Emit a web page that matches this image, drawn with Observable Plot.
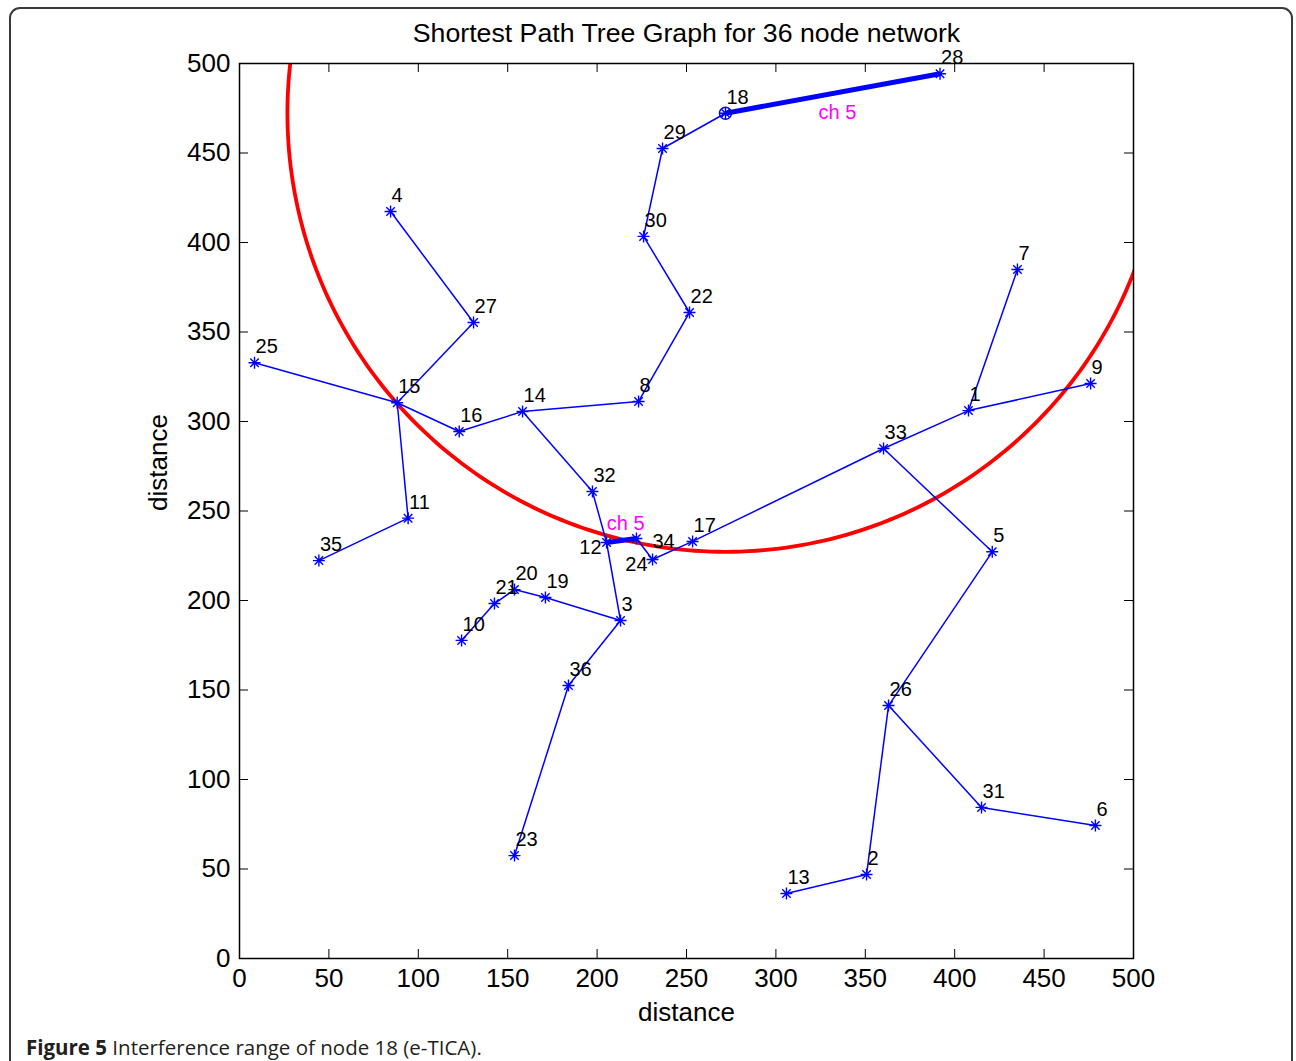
<!DOCTYPE html>
<html>
<head>
<meta charset="utf-8">
<script src="https://cdn.jsdelivr.net/npm/d3@7"></script>
<script src="https://cdn.jsdelivr.net/npm/@observablehq/plot@0.6"></script>
<style>
  html, body { margin: 0; padding: 0; background: #fff; }
  #wrap { position: relative; width: 1296px; height: 1061px; overflow: hidden; }
  #border { position: absolute; left: 9px; top: 7px; width: 1284px; height: 1080px;
            border: 2px solid #3a3a3a; border-radius: 11px; box-sizing: border-box; }
  #chart { position: absolute; left: 0; top: 0; }
  #caption { position: absolute; left: 26px; top: 1033px; font-family: "Open Sans", sans-serif;
             font-size: 20.5px; color: #231f20; white-space: nowrap; }
  #caption b { font-weight: bold; }
</style>
</head>
<body>
<div id="wrap">
  <div id="border"></div>
  <div id="chart"></div>
  <div id="caption"><b>Figure 5</b> Interference range of node 18 (e-TICA).</div>
</div>
<script>
// Node ids and coordinates
const nodeIds = [1,2,3,4,5,6,7,8,9,10,11,12,13,14,15,16,17,18,19,20,21,22,23,24,25,26,27,28,29,30,31,32,33,34,35,36];
const nodeX = [407.7,350.7,213.1,84.5,421.0,478.7,435.1,223.2,476.0,124.2,94.3,205.3,305.9,158.3,88.2,122.9,253.4,271.8,171.1,153.8,142.6,251.7,153.8,231.0,8.4,363.0,130.9,391.8,236.6,226.0,415.0,197.4,360.2,222.0,44.4,184.0];
const nodeY = [306.1,46.9,188.8,417.3,227.2,74.3,384.9,311.2,321.2,177.7,246.0,232.4,36.3,305.6,310.5,294.4,233.0,472.2,201.7,206.1,198.3,360.9,57.5,222.9,332.8,141.3,355.3,494.3,452.5,403.4,84.4,260.9,284.9,234.6,222.3,152.5];

// Tree edges
const edgeFrom = [18,29,30,22,8,14,16,15,15,27,15,11,14,32,12,34,24,17,33,1,1,33,5,26,31,26,2,3,19,20,21,3,36];
const edgeTo   = [29,30,22,8,14,16,15,25,27,4,11,35,32,12,3,24,17,33,1,9,7,5,26,31,6,2,13,19,20,21,10,36,23];

// Channel-5 (thick) edges
const chFrom = [18,12];
const chTo   = [28,34];
const chLabelX = [334.4, 216.0];
const chLabelY = [472.8, 243.2];
const chLabels = ["ch 5", "ch 5"];

// Interference range of node 18
const rangeCenter = 18;
const rangeRadius = 245;

const xTicks = [0,50,100,150,200,250,300,350,400,450,500];
const yTicks = [0,50,100,150,200,250,300,350,400,450,500];

const nodes = nodeIds.map((id, i) => ({id, x: nodeX[i], y: nodeY[i]}));
const byId = new Map(nodes.map(n => [n.id, n]));
const edges = edgeFrom.map((a, i) => ({a: byId.get(a), b: byId.get(edgeTo[i])}));
const chEdges = chFrom.map((a, i) => ({a: byId.get(a), b: byId.get(chTo[i])}));
const chText = chLabels.map((t, i) => ({t, x: chLabelX[i], y: chLabelY[i]}));

const c = byId.get(rangeCenter);
const circlePts = d3.range(0, 361, 1).map(deg => ({
  x: c.x + rangeRadius * Math.cos(deg * Math.PI / 180),
  y: c.y + rangeRadius * Math.sin(deg * Math.PI / 180)
}));

const star = {
  draw(ctx, size) {
    const r = Math.sqrt(size / Math.PI);
    const d = r * Math.SQRT1_2;
    ctx.moveTo(-r, 0); ctx.lineTo(r, 0);
    ctx.moveTo(0, -r); ctx.lineTo(0, r);
    ctx.moveTo(-d, -d); ctx.lineTo(d, d);
    ctx.moveTo(-d, d); ctx.lineTo(d, -d);
  }
};

const W = 1296, H = 1030;
const mT = 63, mB = 72, mL = 239, mR = 163;
const plotH = H - mT - mB, plotW = W - mL - mR;
const tk = 9;
const blue = "#0000ff";
const font = "'Liberation Sans', Arial, Helvetica, sans-serif";
const special = new Set([12, 24, 34]);

const plot = Plot.plot({
  width: W, height: H,
  marginTop: mT, marginBottom: mB, marginLeft: mL, marginRight: mR,
  style: {fontFamily: font, background: "transparent", color: "#000"},
  x: {domain: [0, 500]},
  y: {domain: [0, 500]},
  marks: [
    Plot.line(circlePts, {x: "x", y: "y", stroke: "#ff0000", strokeWidth: 3.8, clip: true}),
    Plot.link(edges, {x1: d => d.a.x, y1: d => d.a.y, x2: d => d.b.x, y2: d => d.b.y, stroke: blue, strokeWidth: 1.5}),
    Plot.link(chEdges, {x1: d => d.a.x, y1: d => d.a.y, x2: d => d.b.x, y2: d => d.b.y, stroke: blue, strokeWidth: 5}),
    Plot.dot(nodes, {x: "x", y: "y", symbol: star, r: 6, stroke: blue, fill: "none", strokeWidth: 1.4}),
    Plot.dot([c], {x: "x", y: "y", symbol: "circle", r: 6, stroke: blue, fill: "none", strokeWidth: 1.4}),
    Plot.text(nodes.filter(d => !special.has(d.id)), {x: "x", y: "y", text: d => String(d.id),
      fontSize: 20, fill: "#000", textAnchor: "start", lineAnchor: "middle", dx: 1, dy: -16}),
    Plot.text(nodes.filter(d => d.id === 12 || d.id === 24), {x: "x", y: "y", text: d => String(d.id),
      fontSize: 20, fill: "#000", textAnchor: "end", lineAnchor: "middle", dx: -5, dy: 5}),
    Plot.text(nodes.filter(d => d.id === 34), {x: "x", y: "y", text: d => String(d.id),
      fontSize: 20, fill: "#000", textAnchor: "start", lineAnchor: "middle", dx: 16, dy: 3}),
    Plot.text(chText, {x: "x", y: "y", text: "t", fontSize: 20, fill: "#ff00ff", lineAnchor: "middle"}),
    Plot.frame({stroke: "#000", strokeWidth: 1.5}),
    Plot.ruleX(xTicks, {x: d => d, insetTop: plotH - tk, stroke: "#000", strokeWidth: 1}),
    Plot.ruleX(xTicks, {x: d => d, insetBottom: plotH - tk, stroke: "#000", strokeWidth: 1}),
    Plot.ruleY(yTicks, {y: d => d, insetRight: plotW - tk, stroke: "#000", strokeWidth: 1}),
    Plot.ruleY(yTicks, {y: d => d, insetLeft: plotW - tk, stroke: "#000", strokeWidth: 1}),
    Plot.axisX(xTicks, {anchor: "bottom", tickSize: 0, tickPadding: 10, fontSize: 26, label: null}),
    Plot.axisY(yTicks, {anchor: "left", tickSize: 0, tickPadding: 9, fontSize: 26, label: null}),
    Plot.text(["distance"], {frameAnchor: "bottom", dy: 54, fontSize: 26, lineAnchor: "middle"}),
    Plot.text(["distance"], {frameAnchor: "left", dx: -81, rotate: -90, fontSize: 26, lineAnchor: "middle"}),
    Plot.text(["Shortest Path Tree Graph for 36 node network"], {frameAnchor: "top", dy: -30, fontSize: 26.7, lineAnchor: "middle"})
  ]
});
document.getElementById("chart").appendChild(plot);
</script>
</body>
</html>
